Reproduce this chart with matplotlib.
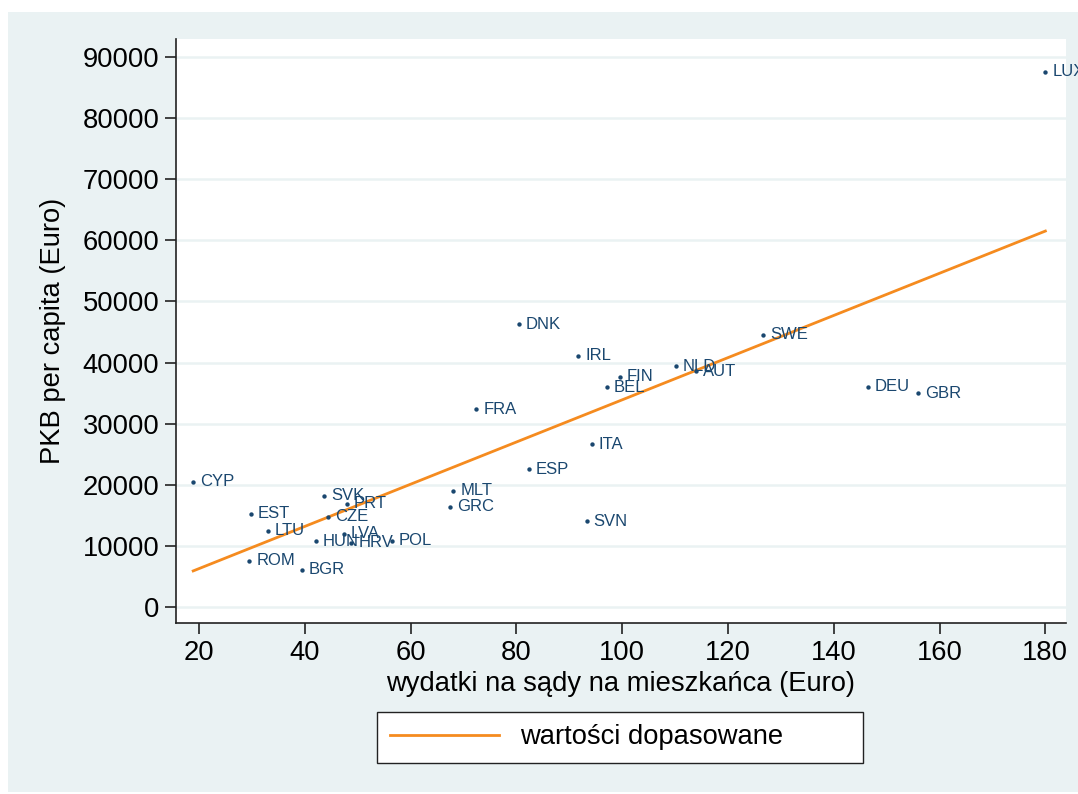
import numpy as np
import matplotlib.pyplot as plt
from matplotlib.patches import Rectangle
from matplotlib.lines import Line2D

kraje = ["CYP", "EST", "LTU", "ROM", "BGR", "SVK", "PRT", "CZE", "LVA", "HUN",
         "HRV", "POL", "MLT", "GRC", "DNK", "IRL", "NLD", "AUT", "FIN", "BEL",
         "FRA", "ITA", "ESP", "SVN", "LUX", "SWE", "DEU", "GBR"]
wydatki = [18.9, 29.8, 33.0, 29.5, 39.5, 43.6, 48.0, 44.4, 47.4, 42.1,
           48.8, 56.4, 68.1, 67.4, 80.4, 91.7, 110.2, 113.9, 99.5, 97.1,
           72.4, 94.2, 82.4, 93.3, 180.0, 126.7, 146.5, 155.9]
pkb = [20460, 15220, 12440, 7530, 6060, 18170, 16860, 14730, 11950, 10800,
       10520, 10850, 18990, 16420, 46270, 41080, 39390, 38620, 37690, 35960,
       32360, 26630, 22540, 14030, 87610, 44520, 36060, 34980]

wydatki = np.array(wydatki)
pkb = np.array(pkb)

granat = '#1a476f'
pomar = '#f58b1f'
tlo = '#eaf2f3'
czcionka = 'Liberation Sans'
rozmiar = 19.7

fig = plt.figure(figsize=(10.78, 7.94), dpi=100)
fig.patch.set_facecolor('white')
fig.patches.append(Rectangle((8/1078, 2/794), 1 - 8/1078, 1 - 14/794,
                             transform=fig.transFigure, facecolor=tlo,
                             edgecolor='none', zorder=-10))

ax = fig.add_axes([176/1078, 1 - 623/794, (1066-176)/1078, (623-39)/794])
ax.set_facecolor('white')

# linia dopasowania (OLS)
b, a = np.polyfit(wydatki, pkb, 1)
xs = np.array([wydatki.min(), wydatki.max()])
ax.plot(xs, a + b*xs, color=pomar, lw=2, zorder=3)

ax.scatter(wydatki, pkb, s=10, color=granat, zorder=4, linewidths=0)
for k, xx, yy in zip(kraje, wydatki, pkb):
    ax.annotate(k, (xx, yy), xytext=(5, 0), textcoords='offset points',
                va='center', ha='left', fontsize=12, color=granat,
                family=czcionka, annotation_clip=False, zorder=5)

ax.set_xlim(15.65, 183.9)
ax.set_ylim(-2620, 92960)
ax.set_xticks(range(20, 181, 20))
ax.set_yticks(range(0, 90001, 10000))
ax.yaxis.grid(True, color=tlo, lw=1.8)
ax.set_axisbelow(True)
for s in ['top', 'right']:
    ax.spines[s].set_visible(False)
for s in ['left', 'bottom']:
    ax.spines[s].set_color('#222222')
    ax.spines[s].set_linewidth(1.2)
ax.tick_params(length=8, width=1.2, color='#222222', labelsize=rozmiar, pad=4)
for t in ax.get_xticklabels() + ax.get_yticklabels():
    t.set_family(czcionka)

ax.set_xlabel("wydatki na sądy na mieszkańca (Euro)", fontsize=rozmiar,
              family=czcionka, labelpad=4)
ax.set_ylabel("PKB per capita (Euro)", fontsize=rozmiar, family=czcionka,
              labelpad=12)

uchwyt = [Line2D([0], [0], color=pomar, lw=2)]
leg = fig.legend(uchwyt, ["wartości dopasowane"], loc='center',
                 bbox_to_anchor=(377/1078, 1 - 763/794, 486/1078, 51/794),
                 mode='expand', frameon=True, fancybox=False, framealpha=1,
                 edgecolor='#222222', handlelength=4.0, borderpad=0.47,
                 prop={'family': czcionka, 'size': rozmiar},
                 handletextpad=0.75, borderaxespad=0)
leg.get_frame().set_linewidth(1.0)
leg.get_frame().set_facecolor('white')

fig.savefig("out.png", dpi=100, facecolor=fig.get_facecolor())
